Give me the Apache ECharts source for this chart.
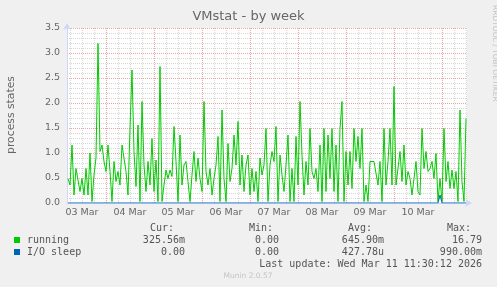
<!DOCTYPE html>
<html><head><meta charset="utf-8">
<script src="https://cdn.jsdelivr.net/npm/echarts@6/dist/echarts.min.js"></script>
<style>html,body{margin:0;padding:0;background:#f0f0f0}#c{width:497px;height:287px}</style>
</head><body><div id="c"></div>
<script>
// hours since 03 Mar 00:00
const START_HOUR = 5;
const dayLabels = ['03 Mar','04 Mar','05 Mar','06 Mar','07 Mar','08 Mar','09 Mar','10 Mar'];
const dayLabelHours = [12,36,60,84,108,132,156,180];
const yTicks = [0,0.5,1,1.5,2,2.5,3,3.5];
// hourly "running" values
const running = [
0.49,0.36,1.16,0.16,0.69,0.69,0.23,0.49,0.16,0.69,0.16,1.0,0.03,0.56,0.9,3.19,1.03,1.16,0.83,0.63,1.16,0.63,0.03,0.83,0.43,0.63,0.36,1.16,
1.2,0.63,0.16,1.5,2.66,1.03,0.33,1.56,0.03,2.03,0.76,0.23,0.83,0.36,1.29,0.23,0.86,0.03,2.73,0.03,0.36,0.66,0.49,0.66,0.53,1.53,0.83,0.03,
1.36,0.36,0.76,0.83,0.43,0.03,0.56,1.03,0.43,0.9,0.49,0.23,2.03,0.63,0.36,0.69,0.16,0.49,0.76,1.33,0.03,1.86,0.49,0.03,1.19,0.43,0.69,1.36,
0.76,1.63,0.36,0.96,0.23,0.76,0.96,0.16,0.69,0.23,0.63,0.03,0.9,0.56,0.76,1.49,0.03,0.76,1.03,0.83,1.53,0.03,0.96,0.56,0.23,0.76,1.36,0.03,
0.69,0.03,1.33,0.36,2.03,0.96,0.16,0.83,0.36,1.49,0.63,0.49,0.69,0.23,1.16,0.03,1.49,0.23,1.36,0.49,1.49,0.23,1.16,0.03,1.49,2.03,0.03,1.03,
0.36,1.03,0.29,1.49,0.83,1.33,0.69,1.49,0.03,0.36,0.03,0.83,0.83,0.83,0.83,0.36,0.83,0.03,1.49,0.36,0.83,1.49,0.36,2.33,0.36,0.36,1.03,0.43,
1.16,0.36,0.63,0.49,0.16,0.49,0.83,0.23,0.16,1.49,0.69,1.03,0.63,0.69,0.83,0.49,0.99,0.03,0.49,0.03,1.49,0.43,0.83,0.29,0.66,0.29,0.63,0.03,1.86,0.43,0.03,1.69
];
const ioSleepHours = [5,190,191,192,204];
const ioSleepValues = [0,0,0.16,0,0];
const legendRows = [
  {name:'running', color:'#00cc00', cur:'325.56m', min:'0.00', avg:'645.90m', max:'16.79'},
  {name:'I/O sleep', color:'#0066b3', cur:'0.00', min:'0.00', avg:'427.78u', max:'990.00m'}
];
const lastUpdate = 'Last update: Wed Mar 11 11:30:12 2026';

const X_MIN = 4.5, X_MAX = 204.5;
const runningData = running.map((v,i)=>[START_HOUR+i, v]);
const ioData = ioSleepHours.map((h,i)=>[h, ioSleepValues[i]]);

const minorHours = [], majorHours = [];
for (let h = 6; h < X_MAX; h += 6) {
  if (h % 24 === 0) majorHours.push(h); else minorHours.push(h);
}

const chart = echarts.init(document.getElementById('c'), null, {renderer:'canvas'});
const FONT = 'DejaVu Sans';
const MONO = '10px "DejaVu Sans Mono"';
const graphics = [
  {type:'text', x:491, y:5, rotation:-Math.PI/2, style:{text:'RRDTOOL / TOBI OETIKER', font:'7.5px "DejaVu Sans"', fill:'#c4c4c4', textVerticalAlign:'bottom'}},
  {type:'text', x:11, y:115, rotation:Math.PI/2, style:{text:'process states', font:'10.8px "DejaVu Sans"', fill:'#666', textAlign:'center', textVerticalAlign:'middle'}},
  {type:'text', x:150, y:228, style:{text:'Cur:', font:MONO, fill:'#555', textVerticalAlign:'middle'}},
  {type:'text', x:249, y:228, style:{text:'Min:', font:MONO, fill:'#555', textVerticalAlign:'middle'}},
  {type:'text', x:348, y:228, style:{text:'Avg:', font:MONO, fill:'#555', textVerticalAlign:'middle'}},
  {type:'text', x:447, y:228, style:{text:'Max:', font:MONO, fill:'#555', textVerticalAlign:'middle'}},
  {type:'text', x:482, y:264, style:{text:lastUpdate, font:MONO, fill:'#555', textAlign:'right', textVerticalAlign:'middle'}},
  {type:'text', x:248, y:276, style:{text:'Munin 2.0.57', font:'7.5px "DejaVu Sans"', fill:'#c4c4c4', textAlign:'center', textVerticalAlign:'middle'}}
];
legendRows.forEach((r,k)=>{
  const y = 240 + k*12;
  graphics.push({type:'rect', shape:{x:14, y:y-3, width:6, height:6}, style:{fill:r.color}});
  graphics.push({type:'text', x:27, y:y, style:{text:r.name, font:MONO, fill:'#555', textVerticalAlign:'middle'}});
  graphics.push({type:'text', x:185, y:y, style:{text:r.cur, font:MONO, fill:'#555', textAlign:'right', textVerticalAlign:'middle'}});
  graphics.push({type:'text', x:279, y:y, style:{text:r.min, font:MONO, fill:'#555', textAlign:'right', textVerticalAlign:'middle'}});
  graphics.push({type:'text', x:384, y:y, style:{text:r.avg, font:MONO, fill:'#555', textAlign:'right', textVerticalAlign:'middle'}});
  graphics.push({type:'text', x:482, y:y, style:{text:r.max, font:MONO, fill:'#555', textAlign:'right', textVerticalAlign:'middle'}});
});

chart.setOption({
  animation:false,
  backgroundColor:'#f0f0f0',
  textStyle:{fontFamily:FONT},
  title:{text:'VMstat - by week', left:'center', top:5, textStyle:{fontSize:13, fontWeight:'normal', color:'#666', fontFamily:FONT}},
  grid:{left:67, right:30, top:28, bottom:84, show:true, backgroundColor:'#ffffff', borderWidth:0, containLabel:false, outerBoundsMode:'none'},
  xAxis:[
    {type:'value', min:X_MIN, max:X_MAX, position:'bottom',
      axisLine:{show:true, lineStyle:{color:'#cfd6f8', width:1}, symbol:['none','arrow'], symbolSize:[6,7], symbolOffset:[0,5]},
      axisTick:{show:false, customValues:minorHours},
      splitLine:{show:true, lineStyle:{color:'#d6d6d6', type:[1,1], width:1}},
      axisLabel:{customValues:dayLabelHours, formatter:(v)=>dayLabels[dayLabelHours.indexOf(v)]||'', color:'#666', fontSize:9.5, margin:5, fontFamily:FONT}
    },
    {type:'value', min:X_MIN, max:X_MAX, position:'bottom',
      axisLine:{show:false}, axisLabel:{show:false},
      axisTick:{show:false, customValues:majorHours},
      splitLine:{show:true, lineStyle:{color:'#eaa4a4', type:[1,1], width:1}}
    }
  ],
  yAxis:{type:'value', min:0, max:3.5, interval:0.5,
    axisLine:{show:true, lineStyle:{color:'#cfd6f8', width:1}, symbol:['none','arrow'], symbolSize:[6,7], symbolOffset:[0,5]},
    axisTick:{show:false},
    axisLabel:{formatter:(v)=>v.toFixed(1), color:'#666', fontSize:9.5, margin:7, fontFamily:FONT},
    splitLine:{show:true, lineStyle:{color:'#eaa4a4', type:[1,1], width:1}},
    minorTick:{show:false, splitNumber:5},
    minorSplitLine:{show:true, lineStyle:{color:'#d6d6d6', type:[1,1], width:1}}
  },
  graphic:graphics,
  series:[
    {type:'line', name:'running', data:runningData, showSymbol:false, symbol:'none', z:3,
      lineStyle:{color:'#00cc00', width:1}, itemStyle:{color:'#00cc00'}},
    {type:'line', name:'I/O sleep', data:ioData, showSymbol:false, symbol:'none', z:4,
      lineStyle:{color:'#0066b3', width:1}, itemStyle:{color:'#0066b3'}}
  ]
});
</script></body></html>
